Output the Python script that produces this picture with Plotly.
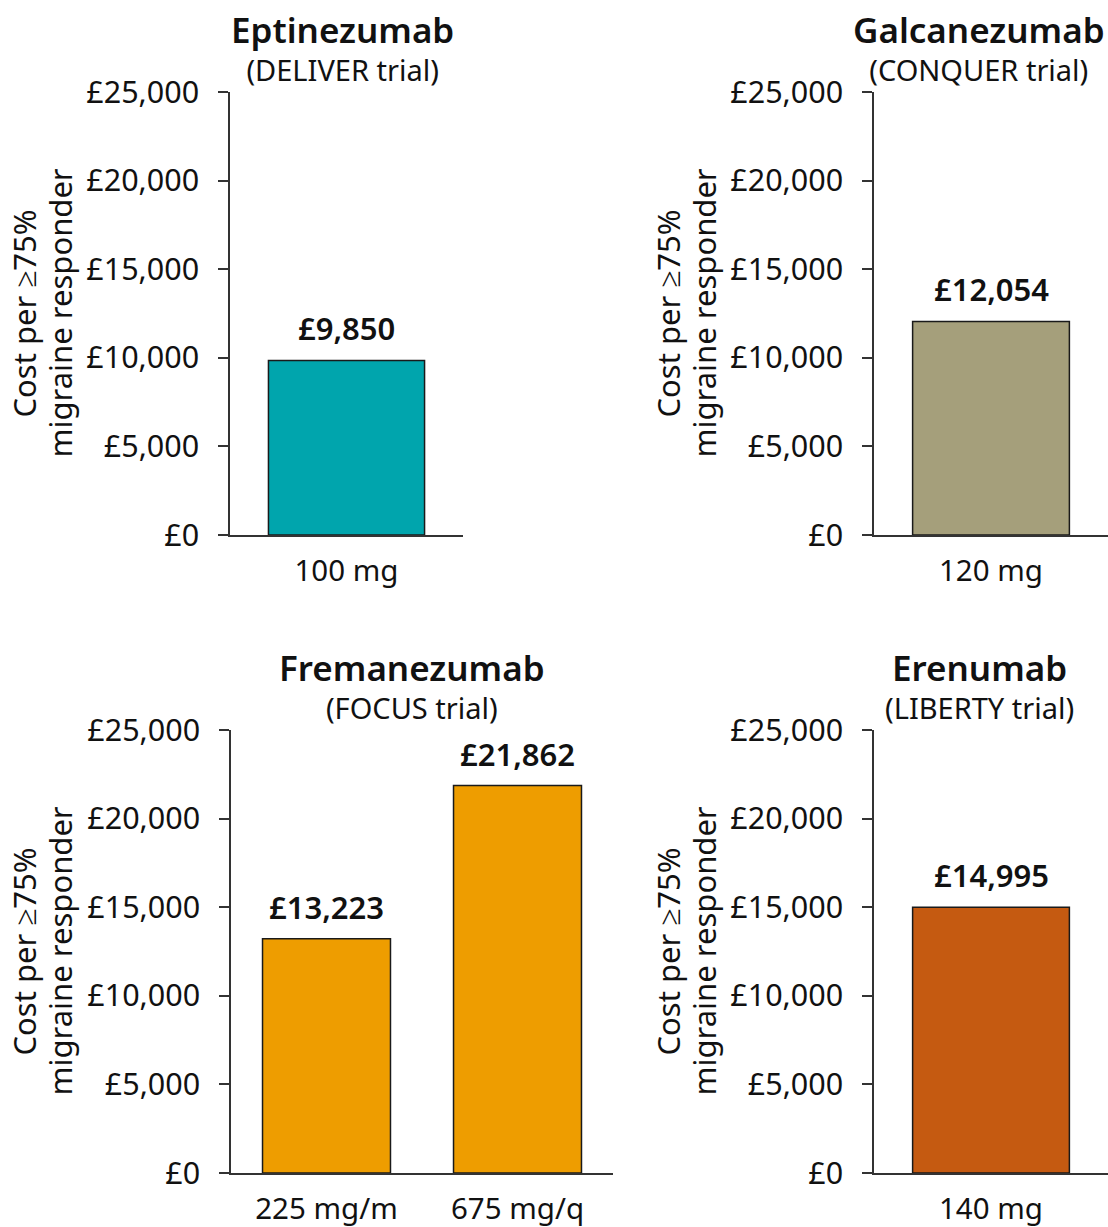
import plotly.graph_objects as go

W, H = 1108, 1227

drugs = ["Eptinezumab", "Galcanezumab", "Fremanezumab", "Erenumab"]
trials = ["(DELIVER trial)", "(CONQUER trial)", "(FOCUS trial)", "(LIBERTY trial)"]
doses = [["100 mg"], ["120 mg"], ["225 mg/m", "675 mg/q"], ["140 mg"]]
costs = [[9850], [12054], [13223, 21862], [14995]]
bar_colors = ["#00A5AD", "#A59F7B", "#EE9D00", "#C55A11"]

tick_vals = [0, 5000, 10000, 15000, 20000, 25000]
tick_text = ["£0", "£5,000", "£10,000", "£15,000", "£20,000", "£25,000"]
y_title_lines = ["Cost per ≥75%", "migraine responder"]

# pixel layout (x0, x1, ytop, ybottom) for each panel
px_boxes = [(230, 463, 92, 535), (874, 1108, 92, 535),
            (231, 613, 730, 1173), (874, 1108, 730, 1173)]
title_cx = [342, 979, 412, 979]
ytitle_cx = [[23, 59], [667, 703], [23, 59], [667, 703]]

FONT = "Noto Sans"
INK = "#111111"
fig = go.Figure()
annotations = []
layout = {}
for i in range(4):
    x0, x1, yt, yb = px_boxes[i]
    xa = "x" if i == 0 else f"x{i+1}"
    ya = "y" if i == 0 else f"y{i+1}"
    xk = "xaxis" if i == 0 else f"xaxis{i+1}"
    yk = "yaxis" if i == 0 else f"yaxis{i+1}"
    fig.add_trace(go.Bar(
        x=doses[i], y=costs[i], xaxis=xa, yaxis=ya,
        marker=dict(color=bar_colors[i], line=dict(color="#1a1a1a", width=1.5)),
        showlegend=False, hoverinfo="skip"))
    layout[xk] = dict(domain=[x0 / W, x1 / W], anchor=ya, showline=True,
                      linecolor="#333333", linewidth=1.5, ticks="",
                      showgrid=False, zeroline=False, automargin=False,
                      tickfont=dict(family=FONT, size=29.5, color=INK),
                      ticklabelstandoff=9, fixedrange=True)
    layout[yk] = dict(domain=[1 - yb / H, 1 - yt / H], anchor=xa, range=[0, 25000],
                      showline=True, linecolor="#333333", linewidth=1.5,
                      ticks="outside", ticklen=10, tickwidth=1.5, tickcolor="#333333",
                      tickvals=tick_vals, ticktext=tick_text,
                      showgrid=False, zeroline=False, automargin=False,
                      tickfont=dict(family=FONT, size=30.5, color=INK),
                      ticklabelstandoff=13, fixedrange=True)
    for d, c in zip(doses[i], costs[i]):
        annotations.append(dict(x=d, y=c, xref=xa, yref=ya,
                                text=f"<span style='font-weight:600'>£{c:,}</span>",
                                showarrow=False, yanchor="bottom", yshift=9,
                                font=dict(family=FONT, size=31, color=INK)))
    annotations.append(dict(
        x=title_cx[i] / W, y=1 - (yt - 45) / H, xref="paper", yref="paper",
        text=(f"<span style='font-size:35px;font-weight:600'>{drugs[i]}</span>"
              f"<br>{trials[i]}"),
        showarrow=False, xanchor="center", yanchor="middle",
        font=dict(family=FONT, size=29, color=INK)))
    for line, cx in zip(y_title_lines, ytitle_cx[i]):
        annotations.append(dict(x=cx / W, y=1 - ((yt + yb) / 2) / H, xref="paper", yref="paper",
                                text=line, showarrow=False, textangle=-90,
                                xanchor="center", yanchor="middle",
                                font=dict(family=FONT, size=31, color=INK)))

fig.update_layout(width=W, height=H, margin=dict(l=0, r=0, t=0, b=0, autoexpand=False),
                  paper_bgcolor="white", plot_bgcolor="white", bargap=0.33,
                  annotations=annotations, **layout)
fig.write_html("out.html", config={"displayModeBar": False})
